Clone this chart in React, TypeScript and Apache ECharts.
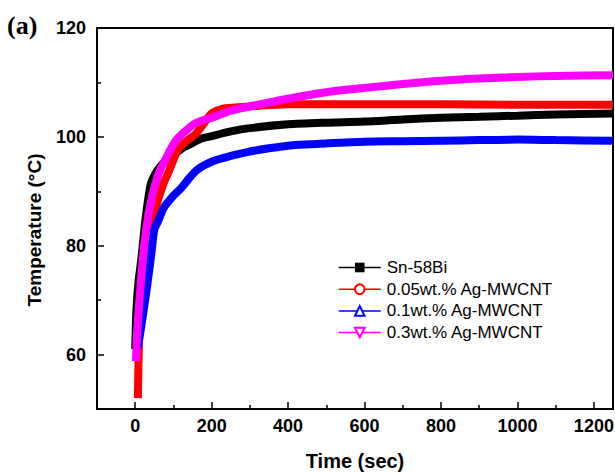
import React, { useEffect, useRef } from "react";
import * as echarts from "echarts";

const seriesNames = ["Sn-58Bi", "0.05wt.% Ag-MWCNT", "0.1wt.% Ag-MWCNT", "0.3wt.% Ag-MWCNT"];

const tSn58Bi = [0, 3, 8, 15, 28, 41, 55, 67, 85, 106, 125, 145, 170, 198, 250, 300, 400, 500, 600, 700, 800, 900, 1000, 1100, 1250];
const vSn58Bi = [61, 68, 73, 77, 85.5, 91.4, 93.5, 94.7, 96, 97, 98, 98.7, 99.6, 100.1, 101, 101.6, 102.3, 102.6, 102.8, 103.2, 103.5, 103.7, 103.9, 104.1, 104.3];

const t005 = [7, 9, 12, 18, 30, 45, 60, 74, 90, 110, 130, 158, 180, 200, 230, 260, 300, 400, 500, 600, 800, 1000, 1250];
const v005 = [52, 60, 66, 72, 79, 84.5, 88.5, 91.4, 94, 97.4, 99, 100.5, 102.5, 104.3, 105.2, 105.4, 105.6, 106, 106, 106, 106, 105.9, 105.9];

const t01 = [6, 12, 19, 32, 43, 50, 60, 75, 95, 119, 140, 163, 206, 250, 293, 350, 419, 500, 600, 700, 800, 900, 1000, 1100, 1250];
const v01 = [61.2, 63.5, 66.7, 73, 79, 83, 84.5, 87, 88.8, 90.5, 92.3, 94, 95.6, 96.5, 97.2, 97.9, 98.5, 98.8, 99.1, 99.2, 99.3, 99.4, 99.5, 99.4, 99.3];

const t03 = [2, 5, 10, 15, 25, 41, 60, 80, 106, 130, 160, 200, 250, 300, 400, 500, 600, 700, 800, 900, 1000, 1100, 1250];
const v03 = [58.8, 64, 69, 73.5, 81, 88, 93, 96, 99.3, 101, 102.6, 103.5, 104.8, 105.6, 107, 108.2, 109, 109.7, 110.3, 110.7, 111, 111.2, 111.3];

const xMajorTicks = [0, 200, 400, 600, 800, 1000, 1200];
const xMinorTicks = [100, 300, 500, 700, 900, 1100];
const yMajorTicks = [60, 80, 100, 120];
const yMinorTicks = [70, 90, 110];

const colors = ["#000000", "#ff0000", "#0000ff", "#ff00ff"];
const symbols = ["rect", "emptyCircle", "emptyTriangle", "emptyTriangle"];
const rotations = [0, 0, 0, 180];

const FONT = "'Liberation Sans', Arial, sans-serif";

export default function App() {
  const ref = useRef<HTMLDivElement>(null);
  useEffect(() => {
    if (!ref.current) return;
    const chart = echarts.init(ref.current, null, { renderer: "svg" });
    const pairs = (t: number[], v: number[]) => t.map((x, i) => [x, v[i]]);
    const datasets = [pairs(tSn58Bi, vSn58Bi), pairs(t005, v005), pairs(t01, v01), pairs(t03, v03)];
    const xBase = { type: "value", min: -100, max: 1250, gridIndex: 0, splitLine: { show: false } };
    const yBase = { type: "value", min: 50, max: 120, gridIndex: 0, splitLine: { show: false } };
    chart.setOption({
      animation: false,
      backgroundColor: "#ffffff",
      grid: {
        left: 97,
        right: 2,
        top: 28,
        bottom: 64,
        containLabel: false,
        outerBoundsMode: "none",
        show: true,
        borderColor: "#000",
        borderWidth: 2,
        backgroundColor: "transparent",
      },
      graphic: [
        {
          type: "text",
          left: 7,
          top: 12,
          style: { text: "(a)", fontFamily: "'Liberation Serif', 'Times New Roman', serif", fontSize: 26, fontWeight: "bold", fill: "#000" },
        },
        {
          type: "text",
          x: 34,
          y: 230,
          rotation: Math.PI / 2,
          style: {
            text: "Temperature (°C)",
            fontFamily: FONT,
            fontSize: 19,
            fontWeight: "bold",
            fill: "#000",
            align: "center",
            verticalAlign: "middle",
          },
        },
      ],
      legend: {
        orient: "vertical",
        left: 338,
        top: 259,
        padding: 0,
        itemWidth: 42,
        itemHeight: 12,
        itemGap: 4.7,
        data: seriesNames,
        lineStyle: { width: 1.5 },
        textStyle: { fontFamily: FONT, fontSize: 17, color: "#000", padding: [0, 0, 0, 1] },
      },
      xAxis: [
        {
          ...xBase,
          position: "bottom",
          name: "Time (sec)",
          nameLocation: "middle",
          nameGap: 42,
          nameTextStyle: { fontFamily: FONT, fontSize: 20, fontWeight: "bold", color: "#000" },
          axisLine: { show: true, onZero: false, lineStyle: { color: "#000", width: 2 } },
          axisTick: { show: true, inside: true, length: 7, customValues: xMajorTicks, lineStyle: { color: "#000", width: 1.5 } },
          axisLabel: {
            customValues: xMajorTicks,
            margin: 8,
            formatter: (v: number) => String(v),
            fontFamily: FONT,
            fontSize: 18,
            fontWeight: "bold",
            color: "#000",
          },
        },
        {
          ...xBase,
          position: "bottom",
          axisLine: { show: false, onZero: false },
          axisTick: { show: true, inside: true, length: 4, customValues: xMinorTicks, lineStyle: { color: "#000", width: 1.5 } },
          axisLabel: { show: false },
        },
      ],
      yAxis: [
        {
          ...yBase,
          position: "left",
          axisLine: { show: true, onZero: false, lineStyle: { color: "#000", width: 2 } },
          axisTick: { show: true, inside: true, length: 7, customValues: yMajorTicks, lineStyle: { color: "#000", width: 1.5 } },
          axisLabel: {
            customValues: yMajorTicks,
            margin: 11,
            formatter: (v: number) => String(v),
            fontFamily: FONT,
            fontSize: 18,
            fontWeight: "bold",
            color: "#000",
          },
        },
        {
          ...yBase,
          position: "left",
          axisLine: { show: false, onZero: false },
          axisTick: { show: true, inside: true, length: 4, customValues: yMinorTicks, lineStyle: { color: "#000", width: 1.5 } },
          axisLabel: { show: false },
        },
      ],
      series: seriesNames.map((name, i) => ({
        name,
        type: "line",
        xAxisIndex: 0,
        yAxisIndex: 0,
        data: datasets[i],
        smooth: 0.25,
        showSymbol: false,
        symbol: symbols[i],
        symbolRotate: rotations[i],
        symbolSize: 9,
        color: colors[i],
        lineStyle: { color: colors[i], width: 8 },
        itemStyle: { color: colors[i], borderColor: colors[i] },
      })),
    });
    return () => chart.dispose();
  }, []);
  return <div ref={ref} style={{ width: 615, height: 473, position: "absolute", left: 0, top: 0 }} />;
}
